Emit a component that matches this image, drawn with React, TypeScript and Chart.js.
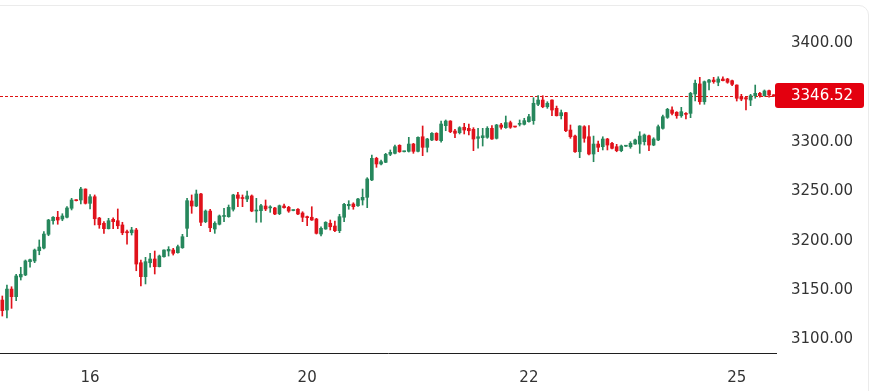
import React, { useEffect, useRef } from 'react';
import { Chart, registerables } from 'chart.js';

Chart.register(...registerables);

// ---- Data (OHLC, one candle per category) ----
const opens = [
  3139.8, 3129.7, 3150.9, 3143.2, 3163.2, 3165.2, 3178.7, 3179.4, 3189.8, 3192.5,
  3206.4, 3220.2, 3223.7, 3221.9, 3223.7, 3232.8, 3241.2, 3241.2, 3252.3, 3237.8,
  3244.5, 3222.9, 3217.6, 3212.1, 3221.6, 3220.2, 3215.9, 3209.1, 3208.0, 3210.8,
  3177.6, 3163.5, 3177.6, 3181.4, 3173.6, 3183.7, 3189.5, 3190.5, 3187.8, 3192.8,
  3212.5, 3240.2, 3235.1, 3247.3, 3219.2, 3230.0, 3211.8, 3216.6, 3224.5, 3224.3,
  3231.8, 3246.3, 3243.2, 3242.2, 3245.3, 3230.0, 3230.4, 3235.1, 3233.2, 3233.1,
  3227.3, 3235.1, 3233.8, 3230.5, 3231.8, 3228.0, 3224.3, 3223.7, 3221.9, 3206.7,
  3211.8, 3217.6, 3214.8, 3210.1, 3223.7, 3235.4, 3237.1, 3235.4, 3241.2, 3243.9,
  3261.5, 3283.4, 3277.7, 3279.4, 3287.5, 3288.5, 3296.6, 3290.1, 3290.5, 3297.9,
  3290.5, 3305.3, 3294.6, 3302.0, 3308.8, 3301.3, 3316.5, 3321.2, 3311.1, 3309.4,
  3314.9, 3313.8, 3312.8, 3303.7, 3304.3, 3304.7, 3313.8, 3303.7, 3317.2, 3314.5,
  3319.6, 3315.6, 3317.9, 3317.9, 3320.6, 3321.6, 3338.2, 3342.5, 3335.7, 3342.5,
  3334.1, 3326.6, 3329.7, 3312.1, 3306.0, 3290.1, 3315.5, 3305.3, 3287.8, 3297.9,
  3295.2, 3303.0, 3298.6, 3295.2, 3291.2, 3295.7, 3295.2, 3297.9, 3297.9, 3300.3,
  3306.3, 3296.9, 3302.0, 3313.8, 3324.9, 3332.4, 3330.1, 3326.6, 3329.0, 3329.0,
  3348.6, 3358.8, 3340.8, 3360.5, 3362.8, 3360.5, 3363.8, 3363.8, 3362.1, 3357.7,
  3345.9, 3344.9, 3342.5, 3346.9, 3349.3, 3346.9, 3352.0, 3347.8,
];

const highs = [
  3143.9, 3155.0, 3153.3, 3165.9, 3173.0, 3180.4, 3181.4, 3191.5, 3200.7, 3209.1,
  3221.6, 3224.3, 3229.7, 3227.3, 3234.4, 3242.9, 3241.5, 3254.1, 3252.5, 3246.6,
  3246.3, 3223.6, 3219.2, 3222.6, 3223.2, 3232.1, 3218.6, 3210.8, 3213.5, 3212.5,
  3180.4, 3183.1, 3187.2, 3189.5, 3185.4, 3190.8, 3193.9, 3192.2, 3195.6, 3206.4,
  3242.9, 3246.3, 3251.3, 3248.0, 3231.1, 3231.8, 3219.2, 3226.0, 3232.8, 3236.1,
  3247.0, 3249.0, 3246.3, 3250.3, 3246.3, 3242.9, 3236.8, 3241.2, 3235.4, 3233.8,
  3236.1, 3237.1, 3234.8, 3231.2, 3232.4, 3229.3, 3225.0, 3234.4, 3222.6, 3214.1,
  3219.2, 3220.9, 3219.9, 3226.7, 3237.8, 3240.5, 3238.4, 3242.9, 3252.3, 3263.8,
  3286.8, 3284.5, 3281.7, 3288.5, 3291.9, 3296.9, 3297.2, 3290.8, 3304.7, 3298.6,
  3305.3, 3316.2, 3303.7, 3309.4, 3309.4, 3321.2, 3322.3, 3321.6, 3312.8, 3315.5,
  3318.9, 3318.2, 3314.5, 3313.8, 3313.8, 3315.5, 3316.5, 3317.9, 3318.9, 3326.3,
  3321.2, 3315.8, 3322.3, 3324.0, 3328.0, 3344.9, 3346.9, 3346.9, 3340.8, 3342.8,
  3336.4, 3332.4, 3330.0, 3317.2, 3307.1, 3316.5, 3316.5, 3316.5, 3306.0, 3301.0,
  3305.3, 3303.7, 3299.7, 3297.6, 3296.9, 3296.4, 3300.3, 3303.0, 3310.4, 3308.1,
  3307.1, 3304.3, 3317.2, 3327.3, 3334.1, 3335.7, 3330.7, 3335.1, 3329.7, 3350.3,
  3362.8, 3365.5, 3361.8, 3363.5, 3365.5, 3366.1, 3366.1, 3364.5, 3362.8, 3357.9,
  3348.3, 3345.3, 3348.3, 3357.7, 3350.3, 3352.7, 3352.7, 3348.0,
];

const lows = [
  3123.6, 3121.6, 3131.4, 3139.1, 3160.1, 3164.5, 3173.0, 3177.7, 3185.7, 3191.5,
  3205.0, 3216.6, 3216.6, 3220.2, 3223.0, 3231.1, 3240.2, 3237.1, 3237.1, 3232.1,
  3215.9, 3212.5, 3207.4, 3211.8, 3212.1, 3212.1, 3206.0, 3196.3, 3205.7, 3169.5,
  3154.0, 3156.1, 3173.0, 3166.2, 3173.3, 3183.3, 3184.4, 3185.4, 3187.2, 3192.2,
  3204.0, 3227.7, 3234.4, 3215.1, 3218.2, 3209.1, 3207.4, 3215.9, 3219.2, 3223.7,
  3230.0, 3234.4, 3234.4, 3239.5, 3229.3, 3218.6, 3218.6, 3230.4, 3228.7, 3226.3,
  3226.3, 3232.8, 3228.7, 3230.2, 3226.3, 3219.2, 3215.1, 3220.5, 3206.7, 3204.7,
  3211.5, 3210.8, 3209.1, 3208.1, 3219.2, 3231.8, 3231.8, 3234.8, 3236.1, 3233.4,
  3260.8, 3274.3, 3276.7, 3279.0, 3286.1, 3287.8, 3289.5, 3289.8, 3289.8, 3288.5,
  3289.8, 3286.1, 3289.8, 3301.3, 3301.3, 3299.7, 3311.4, 3309.4, 3304.3, 3308.1,
  3308.1, 3307.1, 3291.2, 3293.6, 3295.9, 3303.7, 3302.7, 3303.0, 3313.1, 3313.8,
  3313.8, 3314.9, 3316.2, 3317.2, 3320.0, 3317.9, 3336.8, 3334.7, 3334.1, 3326.6,
  3326.3, 3323.3, 3310.4, 3303.7, 3289.5, 3284.1, 3299.7, 3286.8, 3280.0, 3290.1,
  3291.9, 3291.9, 3292.9, 3290.1, 3290.1, 3295.4, 3293.6, 3297.6, 3288.5, 3296.9,
  3291.2, 3296.2, 3301.3, 3313.1, 3323.9, 3327.3, 3324.0, 3325.0, 3323.3, 3324.6,
  3341.5, 3338.2, 3338.2, 3352.7, 3359.5, 3357.0, 3361.8, 3359.5, 3357.0, 3341.5,
  3341.8, 3332.4, 3336.8, 3344.3, 3345.3, 3346.3, 3345.3, 3346.0,
];

const closes = [
  3129.0, 3150.9, 3143.2, 3164.2, 3165.9, 3179.4, 3180.7, 3190.5, 3193.5, 3206.7,
  3220.9, 3223.7, 3220.9, 3225.0, 3233.1, 3241.2, 3240.5, 3252.3, 3237.8, 3244.5,
  3222.2, 3216.1, 3212.1, 3220.2, 3219.2, 3215.1, 3208.0, 3208.0, 3210.8, 3176.3,
  3163.5, 3178.7, 3181.4, 3173.6, 3184.4, 3190.5, 3191.2, 3187.2, 3193.9, 3204.0,
  3240.5, 3235.1, 3247.3, 3218.6, 3230.0, 3213.1, 3217.6, 3225.0, 3225.0, 3233.8,
  3246.3, 3242.9, 3242.7, 3245.3, 3230.0, 3230.4, 3235.4, 3232.1, 3233.5, 3227.0,
  3235.4, 3233.4, 3230.0, 3230.8, 3227.0, 3223.7, 3223.3, 3220.9, 3207.4, 3212.5,
  3218.6, 3214.1, 3210.1, 3224.3, 3236.8, 3236.8, 3234.4, 3242.2, 3243.9, 3262.5,
  3283.4, 3277.7, 3280.0, 3287.5, 3289.5, 3295.2, 3290.1, 3290.4, 3297.9, 3290.5,
  3304.7, 3294.6, 3303.0, 3308.8, 3302.0, 3318.2, 3321.2, 3310.4, 3308.8, 3314.5,
  3312.1, 3311.4, 3303.0, 3305.3, 3306.3, 3313.8, 3303.0, 3317.2, 3314.9, 3319.6,
  3314.9, 3315.2, 3318.9, 3321.6, 3325.6, 3339.2, 3342.5, 3335.7, 3339.2, 3332.4,
  3326.6, 3329.7, 3311.4, 3305.3, 3290.1, 3316.2, 3303.7, 3287.8, 3297.9, 3294.6,
  3303.0, 3296.9, 3293.6, 3291.2, 3295.9, 3296.1, 3298.6, 3302.0, 3306.0, 3307.1,
  3296.9, 3303.0, 3315.5, 3325.6, 3333.1, 3329.0, 3326.6, 3330.7, 3328.0, 3349.3,
  3359.5, 3340.8, 3361.1, 3362.8, 3361.1, 3363.8, 3362.1, 3360.5, 3358.4, 3344.3,
  3343.5, 3343.5, 3346.9, 3349.3, 3346.9, 3351.7, 3347.6, 3346.52,
];

const lastPrice = 3346.52;
const yTickValues = [3100, 3150, 3200, 3250, 3300, 3400];
const xTickIndices = [19, 66, 114, 159];
const xTickLabels = ['16', '20', '22', '25'];

const GREEN = '#26875c';
const RED = '#e0121b';
const PRICE_RED = '#e3000f';
const FONT_FAMILY = '"DejaVu Sans", sans-serif';

export default function App() {
  const ref = useRef<HTMLCanvasElement>(null);

  useEffect(() => {
    if (!ref.current) return;
    const n = opens.length;
    const categories = Array.from({ length: n }, (_, i) => String(i));
    const colors = closes.map((c, i) => (c >= opens[i] ? GREEN : RED));

    const pricePlugin = {
      id: 'pricePlugin',
      beforeDatasetsDraw(chart: any) {
        const { ctx, chartArea } = chart;
        const y = chart.scales.y;
        const py = Math.round(y.getPixelForValue(lastPrice)) + 0.5;
        ctx.save();
        ctx.strokeStyle = '#e01010';
        ctx.lineWidth = 1;
        ctx.setLineDash([3, 2]);
        ctx.beginPath();
        ctx.moveTo(chartArea.left, py);
        ctx.lineTo(chartArea.right, py);
        ctx.stroke();
        ctx.restore();
      },
      afterDraw(chart: any) {
        const { ctx } = chart;
        const y = chart.scales.y;
        const py = y.getPixelForValue(lastPrice);
        const x0 = y.left - 1;
        const w = 89;
        const h = 25;
        const top = py - 13;
        const r = 3;
        ctx.save();
        ctx.fillStyle = PRICE_RED;
        ctx.beginPath();
        ctx.moveTo(x0 + r, top);
        ctx.lineTo(x0 + w - r, top);
        ctx.quadraticCurveTo(x0 + w, top, x0 + w, top + r);
        ctx.lineTo(x0 + w, top + h - r);
        ctx.quadraticCurveTo(x0 + w, top + h, x0 + w - r, top + h);
        ctx.lineTo(x0 + r, top + h);
        ctx.quadraticCurveTo(x0, top + h, x0, top + h - r);
        ctx.lineTo(x0, top + r);
        ctx.quadraticCurveTo(x0, top, x0 + r, top);
        ctx.closePath();
        ctx.fill();
        ctx.fillStyle = '#ffffff';
        ctx.font = `15px ${FONT_FAMILY}`;
        ctx.textAlign = 'left';
        ctx.textBaseline = 'middle';
        ctx.fillText(lastPrice.toFixed(2), y.left + 15, py);
        ctx.restore();
      },
    };

    const chart = new Chart(ref.current, {
      type: 'bar',
      data: {
        labels: categories,
        datasets: [
          {
            label: 'body',
            data: opens.map((o, i) => [o, closes[i]]) as any,
            backgroundColor: colors,
            borderWidth: 0,
            barThickness: 3,
            minBarLength: 1,
            grouped: false,
            order: 0,
          },
          {
            label: 'wick',
            data: lows.map((l, i) => [l, highs[i]]) as any,
            backgroundColor: colors,
            borderWidth: 0,
            barThickness: 1,
            minBarLength: 1,
            grouped: false,
            order: 1,
          },
        ],
      },
      options: {
        responsive: false,
        devicePixelRatio: 1,
        animation: false,
        layout: { padding: { top: 10, left: 0, right: 0, bottom: 0 } },
        plugins: { legend: { display: false }, tooltip: { enabled: false } },
        scales: {
          x: {
            type: 'category',
            offset: true,
            grid: { display: false, drawTicks: false },
            border: { display: true, color: '#1f1f1f', width: 1 },
            ticks: {
              autoSkip: false,
              maxRotation: 0,
              minRotation: 0,
              padding: 16,
              color: '#333333',
              font: { family: FONT_FAMILY, size: 15 },
              callback: (_v: any, index: number) => {
                const k = xTickIndices.indexOf(index);
                return k >= 0 ? xTickLabels[k] : '';
              },
            },
            afterFit: (s: any) => {
              s.height = 38;
              s.paddingLeft = 0;
              s.paddingRight = 0;
            },
          },
          y: {
            type: 'linear',
            position: 'right',
            min: 3086.13,
            max: 3433.75,
            grid: { display: false, drawTicks: false },
            border: { display: false },
            afterBuildTicks: (s: any) => {
              s.ticks = yTickValues.map((v) => ({ value: v }));
            },
            ticks: {
              padding: 15,
              color: '#333333',
              font: { family: FONT_FAMILY, size: 15 },
              callback: (v: any) => Number(v).toFixed(2),
            },
            afterFit: (s: any) => {
              s.width = 103;
              s.paddingTop = 0;
              s.paddingBottom = 0;
            },
          },
        },
      } as any,
      plugins: [pricePlugin],
    });

    return () => chart.destroy();
  }, []);

  return (
    <div
      style={{
        position: 'fixed',
        left: 0,
        top: 0,
        width: 879,
        height: 391,
        background: '#ffffff',
        overflow: 'hidden',
      }}
    >
      <div
        style={{
          position: 'absolute',
          left: -20,
          top: 5,
          width: 889,
          height: 430,
          border: '1px solid #ebebeb',
          borderRadius: 10,
          boxSizing: 'border-box',
        }}
      />
      <canvas
        ref={ref}
        width={879}
        height={391}
        style={{ position: 'absolute', left: 0, top: 0, display: 'block' }}
      />
    </div>
  );
}
